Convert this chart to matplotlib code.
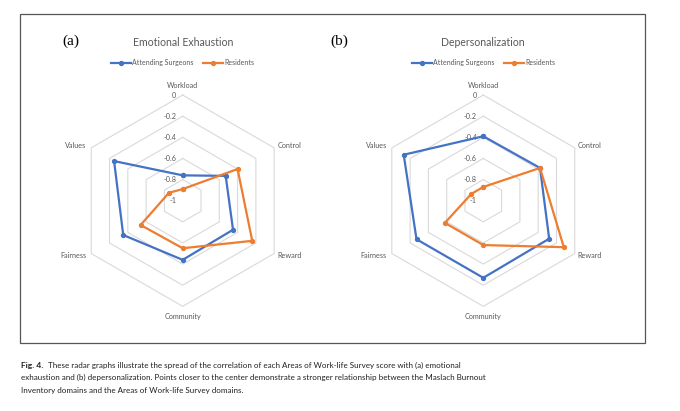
import numpy as np
import matplotlib
matplotlib.use("Agg")
import matplotlib.pyplot as plt
from matplotlib.lines import Line2D
from matplotlib.patches import Rectangle

# categories, clockwise from the top
categories = ["Workload", "Control", "Reward", "Community", "Fairness", "Values"]
ticks = [0, -0.2, -0.4, -0.6, -0.8, -1]
series_names = ["Attending Surgeons", "Residents"]

# (a) emotional exhaustion
ee_attending = [-0.76, -0.53, -0.45, -0.44, -0.35, -0.25]
ee_residents = [-0.89, -0.40, -0.24, -0.55, -0.54, -0.85]

# (b) depersonalization
dp_attending = [-0.39, -0.38, -0.28, -0.27, -0.27, -0.13]
dp_residents = [-0.87, -0.38, -0.12, -0.58, -0.58, -0.87]

caption = [
    "These radar graphs illustrate the spread of the correlation of each Areas of Work-life Survey score with (a) emotional",
    "exhaustion and (b) depersonalization. Points closer to the center demonstrate a stronger relationship between the Maslach Burnout",
    "Inventory domains and the Areas of Work-life Survey domains.",
]

BLUE = "#4472C4"
ORANGE = "#ED7D31"
GRID = "#d9d9d9"
GREY = "#595959"
SANS = ["Lato", "DejaVu Sans"]

W, H = 680, 411
fig = plt.figure(figsize=(W / 100, H / 100), dpi=100)

# frame round both charts
fig.patches.append(Rectangle((20 / W, 1 - 343 / H), 625 / W, 329 / H,
                             transform=fig.transFigure, fill=False,
                             edgecolor="#555555", linewidth=0.9))

theta = np.pi / 2 - np.arange(len(categories)) * np.pi / 3


def to_xy(vals):
    # values run from -1 at the centre to 0 on the outer ring
    r = np.asarray(vals, dtype=float) + 1
    x = r * np.cos(theta)
    y = r * np.sin(theta)
    return np.append(x, x[0]), np.append(y, y[0])


def radar(cx, cy, title, tag, tag_x, attending, residents):
    size = 300
    ax = fig.add_axes([(cx - size / 2) / W, (H - cy - size / 2) / H, size / W, size / H])
    ax.set_xlim(-1.42, 1.42)
    ax.set_ylim(-1.42, 1.42)
    ax.set_aspect("equal")
    ax.axis("off")

    # hexagonal grid
    for t in ticks[:-1]:
        gx, gy = to_xy([t] * len(categories))
        ax.plot(gx, gy, color=GRID, lw=0.8, zorder=1)

    # value labels up the Workload axis
    for t in ticks:
        ax.text(-0.06, t + 1, f"{t:g}", ha="right", va="center",
                fontsize=5.2, color=GREY, family=SANS)

    # category labels
    px = 1 / 105.7
    for name, a in zip(categories, theta):
        vx, vy = np.cos(a), np.sin(a)
        if abs(vx) < 1e-6:
            off = 10 * px if vy > 0 else -10 * px
            ax.text(0, vy + off, name, ha="center", va="center",
                    fontsize=5.2, color=GREY, family=SANS)
        elif vx > 0:
            ax.text(vx + 3 * px, vy + 2 * px * np.sign(vy), name, ha="left", va="center",
                    fontsize=5.2, color=GREY, family=SANS)
        else:
            ax.text(vx - 5 * px, vy + 2 * px * np.sign(vy), name, ha="right", va="center",
                    fontsize=5.2, color=GREY, family=SANS)

    for vals, col in [(attending, BLUE), (residents, ORANGE)]:
        x, y = to_xy(vals)
        ax.plot(x, y, color=col, lw=1.6, marker="o", markersize=2.8, zorder=3)

    fig.text(cx / W, 1 - 42.7 / H, title, ha="center", va="center",
             fontsize=7.6, color=GREY, family=SANS)
    fig.text(tag_x / W, 1 - 41.7 / H, tag, ha="center", va="center",
             fontsize=11, color="black", family=["Liberation Serif", "DejaVu Serif"])

    handles = [Line2D([], [], color=c, lw=1.6, marker="o", markersize=2.8)
               for c in (BLUE, ORANGE)]
    fig.legend(handles, series_names, loc="center", bbox_to_anchor=(cx / W, 1 - 62.7 / H),
               ncol=2, frameon=False, handlelength=2.9, handletextpad=0.15,
               columnspacing=1.4, prop={"family": SANS, "size": 5.0},
               labelcolor=GREY)


radar(182.7, 200.7, "Emotional Exhaustion", "(a)", 70.5, ee_attending, ee_residents)
radar(483.3, 200.7, "Depersonalization", "(b)", 339, dp_attending, dp_residents)

# caption below the frame
cap_size = 5.8
renderer = fig.canvas.get_renderer()
head = fig.text(20.7 / W, 1 - 365 / H, "Fig. 4.", ha="left", va="center",
                fontsize=cap_size + 0.3, fontweight="bold", color="#231f20", family=SANS)
hx = head.get_window_extent(renderer).x1
fig.text((hx + 5) / W, 1 - 365 / H, caption[0], ha="left", va="center",
         fontsize=cap_size, color="#231f20", family=SANS)
for i, line in enumerate(caption[1:]):
    fig.text(20.7 / W, 1 - (377.7 + 12.5 * i) / H, line, ha="left", va="center",
             fontsize=cap_size, color="#231f20", family=SANS)

fig.savefig("out.png", dpi=100)
